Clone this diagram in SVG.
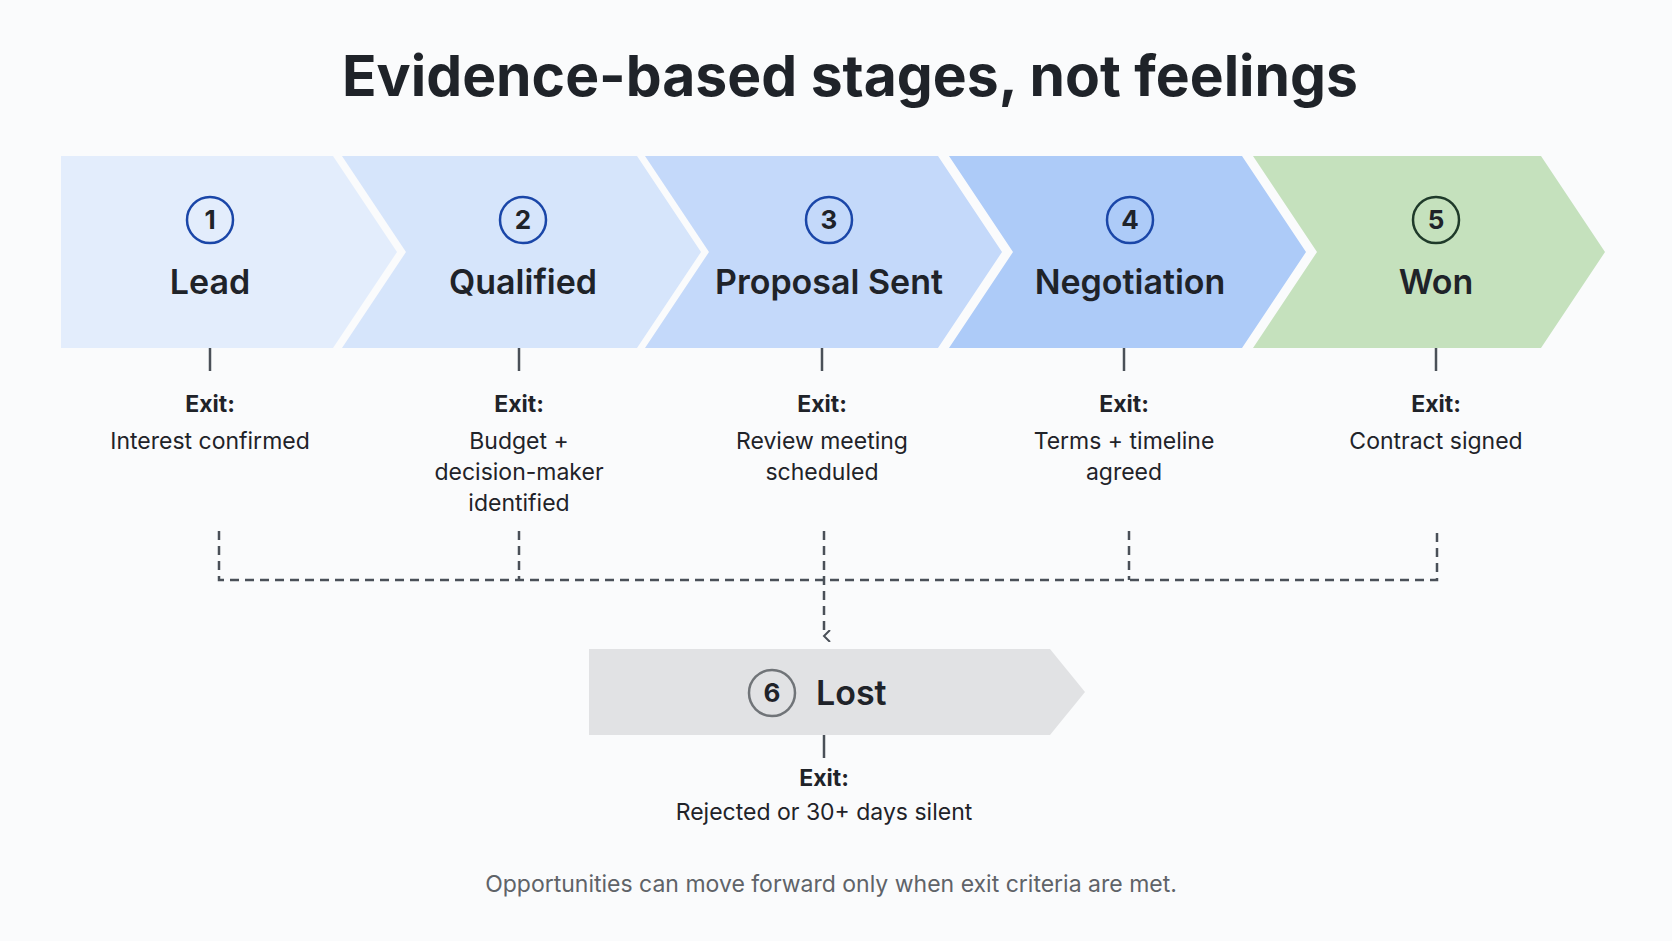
<svg xmlns="http://www.w3.org/2000/svg" width="1672" height="941" viewBox="0 0 1672 941">
<defs>
<style>
text{font-family:Inter,"Noto Sans","Liberation Sans",sans-serif;fill:#1f2329;text-anchor:middle}
.t{font-size:57px;font-weight:700}
.lbl{font-size:34px;font-weight:600}
.num{font-size:26px;font-weight:700}
.cb{fill:none;stroke:#1a46a8;stroke-width:2.5}
.ex{font-size:23px;font-weight:700}
.d{font-size:23px;font-weight:400}
.tick{stroke:#4a5058;stroke-width:2.5}
.dash{stroke:#4a5058;stroke-width:2.5;stroke-dasharray:9 6;fill:none}
</style>
<marker id="ah" viewBox="0 0 12 12" refX="6" refY="10" markerWidth="12" markerHeight="12" markerUnits="userSpaceOnUse" orient="auto"><path d="M0,4 L6,10 L12,4" fill="none" stroke="#4a5058" stroke-width="2"/></marker>
</defs>
<rect width="1672" height="941" fill="#fafbfc"/>
<text class="t" x="850" y="96">Evidence-based stages, not feelings</text>
<g id="lead">
<path d="M61,156 H333 L397,252 L333,348 H61 Z" fill="#e3edfc"/>
<circle class="cb" cx="210" cy="220" r="23"/><text class="num" x="210" y="229">1</text>
<text class="lbl" x="210" y="294">Lead</text>
</g>
<g id="qualified">
<path d="M342,156 H637 L701,252 L637,348 H342 L406,252 Z" fill="#d6e5fb"/>
<circle class="cb" cx="523" cy="220" r="23"/><text class="num" x="523" y="229">2</text>
<text class="lbl" x="523" y="294">Qualified</text>
</g>
<g id="proposal">
<path d="M645,156 H938 L1002,252 L938,348 H645 L709,252 Z" fill="#c4d9fa"/>
<circle class="cb" cx="829" cy="220" r="23"/><text class="num" x="829" y="229">3</text>
<text class="lbl" x="829" y="294">Proposal Sent</text>
</g>
<g id="negotiation">
<path d="M949,156 H1242 L1306,252 L1242,348 H949 L1013,252 Z" fill="#adcbf8"/>
<circle class="cb" cx="1130" cy="220" r="23"/><text class="num" x="1130" y="229">4</text>
<text class="lbl" x="1130" y="294">Negotiation</text>
</g>
<g id="won">
<path d="M1253,156 H1541 L1605,252 L1541,348 H1253 L1317,252 Z" fill="#c5e1bd"/>
<circle cx="1436" cy="220" r="23" fill="none" stroke="#1f3a2a" stroke-width="2.5"/><text class="num" x="1436" y="229">5</text>
<text class="lbl" x="1436" y="294">Won</text>
</g>
<g id="lost">
<path d="M589,649 H1050 L1085,692 L1050,735 H589 Z" fill="#e1e2e4"/>
<circle cx="772" cy="693" r="23" fill="none" stroke="#707478" stroke-width="2.5"/><text class="num" x="772" y="702">6</text>
<text class="lbl" x="816" y="705" style="text-anchor:start">Lost</text>
</g>
<g id="exits">
<text class="ex" x="210" y="412">Exit:</text><text class="d" x="210" y="449">Interest confirmed</text>
<text class="ex" x="519" y="412">Exit:</text><text class="d" x="519" y="449">Budget +</text><text class="d" x="519" y="480">decision-maker</text><text class="d" x="519" y="511">identified</text>
<text class="ex" x="822" y="412">Exit:</text><text class="d" x="822" y="449">Review meeting</text><text class="d" x="822" y="480">scheduled</text>
<text class="ex" x="1124" y="412">Exit:</text><text class="d" x="1124" y="449">Terms + timeline</text><text class="d" x="1124" y="480">agreed</text>
<text class="ex" x="1436" y="412">Exit:</text><text class="d" x="1436" y="449">Contract signed</text>
<text class="ex" x="824" y="786">Exit:</text><text class="d" x="824" y="820">Rejected or 30+ days silent</text>
</g>
<g id="connectors">
<line class="tick" x1="210" y1="348" x2="210" y2="371"/>
<line class="tick" x1="519" y1="348" x2="519" y2="371"/>
<line class="tick" x1="822" y1="348" x2="822" y2="371"/>
<line class="tick" x1="1124" y1="348" x2="1124" y2="371"/>
<line class="tick" x1="1436" y1="348" x2="1436" y2="371"/>
<line class="tick" x1="824" y1="735" x2="824" y2="758"/>
<path class="dash" d="M219,531 V580 H1437 V531 M519,531 V580 M1129,531 V580"/>
<line class="dash" x1="824" y1="531" x2="824" y2="636" marker-end="url(#ah)"/>
</g>
<text x="831" y="892" style="font-size:23px;fill:#5f6368">Opportunities can move forward only when exit criteria are met.</text>
</svg>
